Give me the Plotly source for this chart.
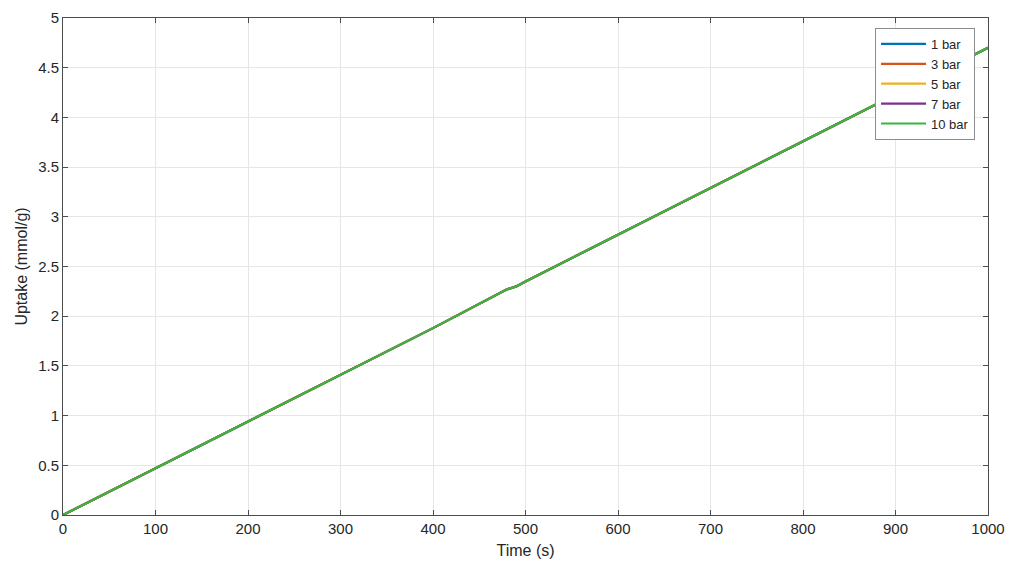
import plotly.graph_objects as go

# data (all pressures overlap almost exactly)
time_s = [0, 100, 200, 300, 400, 480, 490, 500, 600, 700, 800, 900, 1000]
uptake_1bar = [0, 0.47, 0.94, 1.41, 1.88, 2.27, 2.30, 2.35, 2.82, 3.29, 3.76, 4.23, 4.70]
uptake_3bar = [0, 0.47, 0.94, 1.41, 1.88, 2.27, 2.30, 2.35, 2.82, 3.29, 3.76, 4.23, 4.70]
uptake_5bar = [0, 0.47, 0.94, 1.41, 1.88, 2.27, 2.30, 2.35, 2.82, 3.29, 3.76, 4.23, 4.70]
uptake_7bar = [0, 0.47, 0.94, 1.41, 1.88, 2.27, 2.30, 2.35, 2.82, 3.29, 3.76, 4.23, 4.70]
uptake_10bar = [0, 0.47, 0.94, 1.41, 1.88, 2.27, 2.30, 2.35, 2.82, 3.29, 3.76, 4.23, 4.70]

series = [
    ("1 bar", uptake_1bar, "#0072BD"),
    ("3 bar", uptake_3bar, "#D95319"),
    ("5 bar", uptake_5bar, "#EDB120"),
    ("7 bar", uptake_7bar, "#7E2F8E"),
    ("10 bar", uptake_10bar, "#3DB53D"),
]

fig = go.Figure()
for name, vals, color in series:
    fig.add_trace(go.Scatter(x=time_s, y=vals, mode="lines", name=name,
                             line=dict(color=color, width=2.2)))

axis_style = dict(
    showline=True, linecolor="#4d4d4d", linewidth=1, mirror="ticks",
    ticks="inside", ticklen=5, tickcolor="#4d4d4d",
    showgrid=True, gridcolor="#e6e6e6", gridwidth=1, zeroline=False,
    tickfont=dict(size=15, color="#262626"), automargin=False,
    ticklabeloverflow="allow",
)

fig.update_xaxes(range=[0, 1000], dtick=100,
                 title=dict(text="Time (s)", font=dict(size=16, color="#262626"), standoff=8),
                 **axis_style)
fig.update_yaxes(range=[0, 5], dtick=0.5,
                 title=dict(text="Uptake (mmol/g)", font=dict(size=16, color="#262626"), standoff=6),
                 **axis_style)

fig.update_layout(
    width=1018, height=570,
    margin=dict(l=55, r=38, t=10, b=63),
    paper_bgcolor="white", plot_bgcolor="white",
    font=dict(family="Liberation Sans, Arial, sans-serif", color="#262626"),
    legend=dict(x=0.986, y=0.98, xanchor="right", yanchor="top",
                bgcolor="white", bordercolor="#8c8c8c", borderwidth=1,
                font=dict(size=13), tracegroupgap=0, itemwidth=45),
    showlegend=True,
)

fig.write_html("out.html")
